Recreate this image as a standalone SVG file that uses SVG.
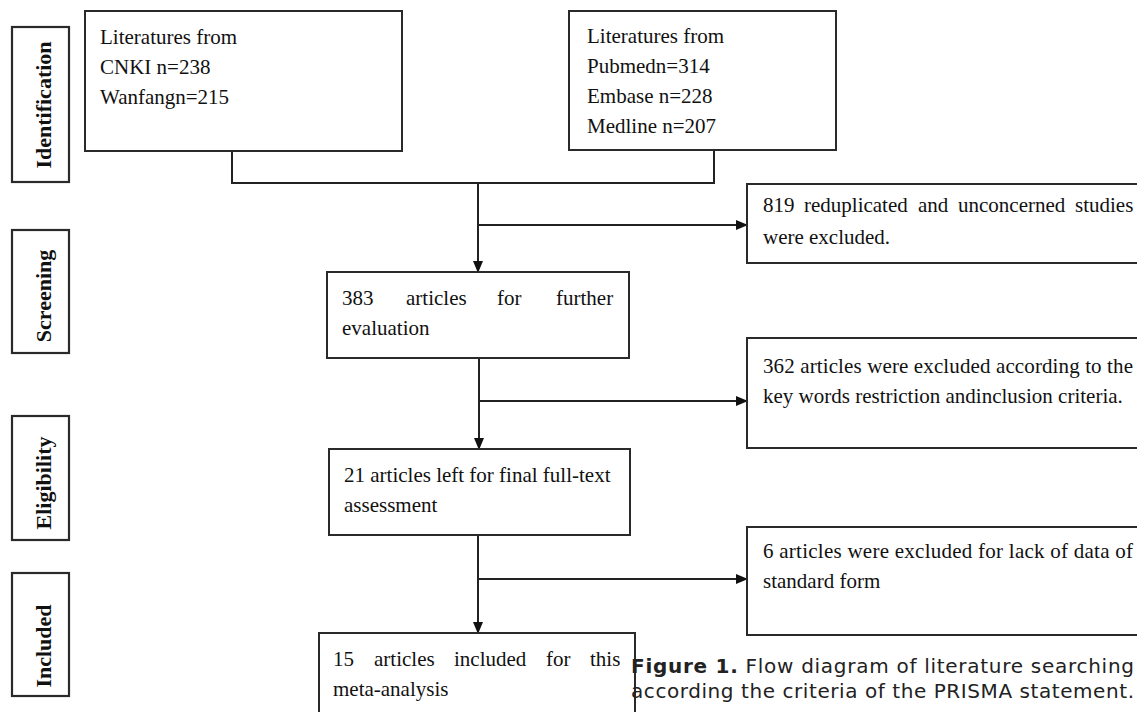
<svg xmlns="http://www.w3.org/2000/svg" width="1137" height="712" viewBox="0 0 1137 712">
<style>
.box{fill:#fff;stroke:#2a2a2a;stroke-width:2}
.lbl{fill:#fff;stroke:#2a2a2a;stroke-width:2.2}
.t{font-family:"Liberation Serif","Times New Roman",serif;font-size:21px;fill:#111}
.s{font-family:"Liberation Serif","Times New Roman",serif;font-size:22px;font-weight:bold;fill:#111}
.c{font-family:"DejaVu Sans","Open Sans",sans-serif;font-size:20px;fill:#222}
.ln{fill:none;stroke:#222;stroke-width:2}
</style>
<defs>
<marker id="ah" markerUnits="userSpaceOnUse" markerWidth="12" markerHeight="10" refX="11" refY="5" orient="auto">
<path d="M0,0 L12,5 L0,10 Z" fill="#111"/>
</marker>
</defs>
<rect width="1137" height="712" fill="#fff"/>

<g id="stage-identification">
<rect class="lbl" x="12" y="27" width="57" height="155"/>
<text class="s" transform="translate(51,105) rotate(-90)" text-anchor="middle">Identification</text>
</g>
<g id="stage-screening">
<rect class="lbl" x="12" y="230" width="57" height="123"/>
<text class="s" transform="translate(51,296) rotate(-90)" text-anchor="middle">Screening</text>
</g>
<g id="stage-eligibility">
<rect class="lbl" x="12" y="416" width="57" height="124"/>
<text class="s" transform="translate(51,483) rotate(-90)" text-anchor="middle">Eligibility</text>
</g>
<g id="stage-included">
<rect class="lbl" x="12" y="573" width="57" height="123"/>
<text class="s" transform="translate(51,646) rotate(-90)" text-anchor="middle">Included</text>
</g>

<g id="connectors">
<path class="ln" d="M232,151 V183 H714 V150"/>
<line class="ln" x1="478" y1="183" x2="478" y2="272" marker-end="url(#ah)"/>
<line class="ln" x1="478" y1="225" x2="747" y2="225" marker-end="url(#ah)"/>
<line class="ln" x1="479" y1="358" x2="479" y2="449" marker-end="url(#ah)"/>
<line class="ln" x1="479" y1="401" x2="747" y2="401" marker-end="url(#ah)"/>
<line class="ln" x1="478" y1="535" x2="478" y2="633" marker-end="url(#ah)"/>
<line class="ln" x1="478" y1="579" x2="747" y2="579" marker-end="url(#ah)"/>
</g>

<g id="cnki">
<rect class="box" x="85" y="11" width="317" height="140"/>
<text class="t" x="100" y="44">Literatures from</text>
<text class="t" x="100" y="74">CNKI n=238</text>
<text class="t" x="100" y="104">Wanfangn=215</text>
</g>
<g id="pubmed">
<rect class="box" x="569" y="11" width="267" height="139"/>
<text class="t" x="587" y="43">Literatures from</text>
<text class="t" x="587" y="73">Pubmedn=314</text>
<text class="t" x="587" y="103">Embase n=228</text>
<text class="t" x="587" y="133">Medline n=207</text>
</g>
<g id="excluded-819">
<rect class="box" x="747" y="184" width="395" height="79"/>
<text class="t" y="212"><tspan x="763">819</tspan><tspan x="804">reduplicated</tspan><tspan x="918">and</tspan><tspan x="958">unconcerned</tspan><tspan x="1075">studies</tspan></text>
<text class="t" x="763" y="244">were excluded.</text>
</g>
<g id="further-383">
<rect class="box" x="327" y="272" width="302" height="86"/>
<text class="t" y="305"><tspan x="342">383</tspan><tspan x="406">articles</tspan><tspan x="497">for</tspan><tspan x="556">further</tspan></text>
<text class="t" x="342" y="335">evaluation</text>
</g>
<g id="excluded-362">
<rect class="box" x="747" y="338" width="395" height="110"/>
<text class="t" x="763" y="373" textLength="370" lengthAdjust="spacing">362 articles were excluded according to the</text>
<text class="t" x="763" y="403">key words restriction andinclusion criteria.</text>
</g>
<g id="fulltext-21">
<rect class="box" x="329" y="449" width="301" height="86"/>
<text class="t" x="344" y="482">21 articles left for final full-text</text>
<text class="t" x="344" y="512">assessment</text>
</g>
<g id="excluded-6">
<rect class="box" x="747" y="527" width="395" height="108"/>
<text class="t" x="763" y="558" textLength="370" lengthAdjust="spacing">6 articles were excluded for lack of data of</text>
<text class="t" x="763" y="588">standard form</text>
</g>
<g id="included-15">
<rect class="box" x="319" y="633" width="316" height="80"/>
<text class="t" y="666"><tspan x="333">15</tspan><tspan x="374">articles</tspan><tspan x="454">included</tspan><tspan x="546">for</tspan><tspan x="590">this</tspan></text>
<text class="t" x="333" y="696">meta-analysis</text>
</g>

<g id="caption">
<text class="c" x="631" y="673" textLength="503" lengthAdjust="spacing"><tspan font-weight="bold">Figure 1.</tspan> Flow diagram of literature searching</text>
<text class="c" x="631" y="698" textLength="503" lengthAdjust="spacing">according the criteria of the PRISMA statement.</text>
</g>
</svg>
